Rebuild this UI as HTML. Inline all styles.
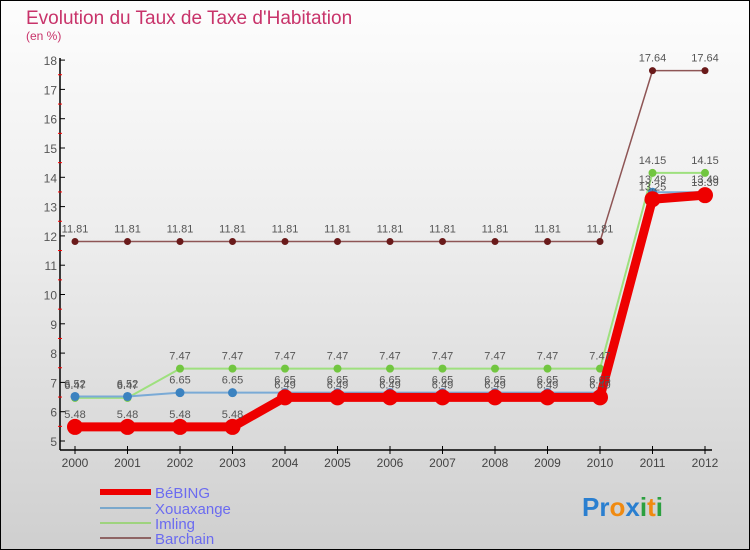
<!DOCTYPE html>
<html><head><meta charset="utf-8"><style>
body{margin:0;padding:0}
#wrap{position:relative;width:750px;height:550px;overflow:hidden;font-family:"Liberation Sans","DejaVu Sans",sans-serif}
svg{position:absolute;left:0;top:0}
</style></head><body>
<div id="wrap">
<svg id="chart" width="750" height="550">
<defs><linearGradient id="bg" x1="0" y1="0" x2="0" y2="1">
<stop offset="0" stop-color="#fdfdfd"/><stop offset="0.45" stop-color="#ececec"/><stop offset="1" stop-color="#cfcfcf"/></linearGradient></defs>
<rect x="0" y="0" width="750" height="550" fill="url(#bg)" stroke="#000" stroke-width="2"/>
<text x="26" y="24" font-size="19" fill="#c8336a">Evolution du Taux de Taxe d'Habitation</text>
<text x="26" y="40" font-size="12" fill="#c8336a">(en %)</text>
<g id="axes"></g><g id="series"></g><g id="labels"></g>
<g>
<line x1="100" y1="492" x2="151" y2="492" stroke="#e00" stroke-width="6"/>
<text x="155" y="498" font-size="15" fill="#6b6bf0">BéBING</text>
<line x1="100" y1="508" x2="151" y2="508" stroke="#7aa8cc" stroke-width="2"/>
<text x="155" y="514" font-size="15" fill="#6b6bf0">Xouaxange</text>
<line x1="100" y1="523" x2="151" y2="523" stroke="#9ed37e" stroke-width="2"/>
<text x="155" y="529" font-size="15" fill="#6b6bf0">Imling</text>
<line x1="100" y1="538" x2="151" y2="538" stroke="#8e6464" stroke-width="2"/>
<text x="155" y="544" font-size="15" fill="#6b6bf0">Barchain</text>
</g>
<g font-size="26" font-weight="bold">
<text x="582" y="516"><tspan fill="#2a7fd0">Pr</tspan><tspan fill="#f08a10">o</tspan><tspan fill="#2a7fd0">x</tspan><tspan fill="#2ca040">i</tspan><tspan fill="#f08a10">t</tspan><tspan fill="#2ca040">i</tspan></text>
</g>
</svg>
</div>
<script>
const years=["2000","2001","2002","2003","2004","2005","2006","2007","2008","2009","2010","2011","2012"];
const bebing=[5.48,5.48,5.48,5.48,6.49,6.49,6.49,6.49,6.49,6.49,6.49,13.25,13.39];
const xouaxange=[6.52,6.52,6.65,6.65,6.65,6.65,6.65,6.65,6.65,6.65,6.65,13.49,13.49];
const imling=[6.47,6.47,7.47,7.47,7.47,7.47,7.47,7.47,7.47,7.47,7.47,14.15,14.15];
const barchain=[11.81,11.81,11.81,11.81,11.81,11.81,11.81,11.81,11.81,11.81,11.81,17.64,17.64];
const yTicks=[5,6,7,8,9,10,11,12,13,14,15,16,17,18];
const NS="http://www.w3.org/2000/svg";
const x=i=>75+i*52.5;
const y=v=>441-(v-5)*29.3;
function mk(tag,attrs,parent){const e=document.createElementNS(NS,tag);for(const k in attrs)e.setAttribute(k,attrs[k]);parent.appendChild(e);return e;}
const axes=document.getElementById('axes'),ser=document.getElementById('series'),lab=document.getElementById('labels');
let e=mk('line',{x1:60,y1:58,x2:60,y2:450,stroke:'#000','stroke-width':1.5},axes);


e=mk('line',{x1:60,y1:450,x2:712,y2:450,stroke:'#000','stroke-width':1.5},axes);


yTicks.forEach(v=>{
 mk('line',{x1:60,y1:y(v),x2:65,y2:y(v),stroke:'#000'},axes);
 if(v<18) mk('line',{x1:58,y1:y(v+0.5),x2:62,y2:y(v+0.5),stroke:'#f00'},axes);
 const t=mk('text',{x:57,y:y(v)+5,'font-size':12,fill:'#555','text-anchor':'end'},axes);
 t.textContent=v;
 
 
});
years.forEach((yr,i)=>{
 mk('line',{x1:x(i),y1:446,x2:x(i),y2:454,stroke:'#000'},axes);
 const t=mk('text',{x:x(i),y:467,'font-size':12,fill:'#444','text-anchor':'middle'},axes);
 t.textContent=yr;
 
 
});
function series(name,data,color,w,r,dot){
 const p=mk('polyline',{points:data.map((v,i)=>x(i)+','+y(v)).join(' '),fill:'none',stroke:color,'stroke-width':w,'stroke-linejoin':'round'},ser);
 
 
 data.forEach((v,i)=>{
  const c=mk('circle',{cx:x(i),cy:y(v),r:r,fill:dot},ser);
  
  
  const t=mk('text',{x:x(i),y:y(v)-9,'font-size':11,fill:'#555','text-anchor':'middle'},lab);
  t.textContent=v;
  
  
 });
}
series('barchain',barchain,'#8e5555',1.5,3.5,'#6a1a1a');
series('imling',imling,'#9ee07e',2,4,'#72c640');
series('xouaxange',xouaxange,'#7aaad6',2,4.5,'#3b82c0');
series('bebing',bebing,'#ee0000',9,8,'#ee0000');
</script>
</body></html>
